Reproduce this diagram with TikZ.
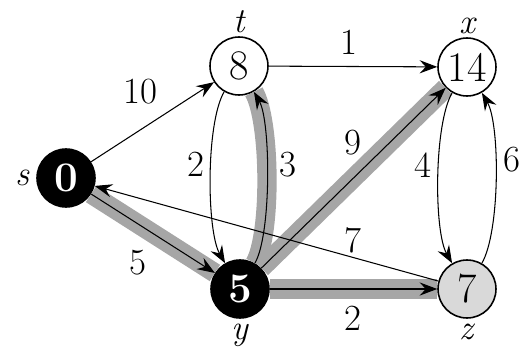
\documentclass[tikz,border=0pt]{standalone}
\usetikzlibrary{arrows.meta, positioning}

\begin{document}
\begin{tikzpicture}[
        x=0.02cm, y=0.02cm,
        vertex/.style={circle, draw, line width=0.9pt, fill=white, minimum size=1.16cm, inner sep=0pt, font=\fontsize{24}{26}\selectfont},
        done/.style={vertex, fill=black, text=white, font=\fontsize{24}{26}\selectfont\bfseries},
        open/.style={vertex, fill=black!15},
        vname/.style={font=\fontsize{20}{22}\selectfont\itshape, inner sep=0.5pt},
        wlabel/.style={font=\fontsize{21}{23}\selectfont, inner sep=1pt},
        arrow/.style={line width=0.6pt, -{Stealth[length=10pt, width=7.5pt, inset=3.5pt]}},
        spedge/.style={line width=11pt, draw=black!35}
        ]
        \useasboundingbox (0,0) rectangle (525,356);

        % Vertices with their shortest-path estimates
        \node (s) [done] at (66,178) {0};
        \node (t) [vertex] at (239,290) {8};
        \node (x) [vertex] at (467,289) {14};
        \node (y) [done] at (240,67) {5};
        \node (z) [open] at (467,67) {7};

        % Vertex names
        \node (sname) [vname, left=3pt of s] {s};
        \node (tname) [vname, above=1pt of t] {t};
        \node (xname) [vname, above=1pt of x] {x};
        \node (yname) [vname, below=2pt of y] {y};
        \node (zname) [vname, below=2pt of z] {z};

        % Shortest-path tree (shaded)
        \draw [spedge] (s) -- (y);
        \draw [spedge] (y) to[out=60, in=-60, looseness=0.5] (t);
        \draw [spedge] (y) -- (x);
        \draw [spedge] (y) -- (z);

        % Edges
        \draw [arrow] (s) -- (t);
        \draw [arrow] (s) -- (y);
        \draw [arrow] (t) -- (x);
        \draw [arrow] (t) to[out=-120, in=120, looseness=0.55] (y);
        \draw [arrow] (y) to[out=60, in=-60, looseness=0.5] (t);
        \draw [arrow] (y) -- (x);
        \draw [arrow] (y) -- (z);
        \draw [arrow] (x) to[out=-120, in=120, looseness=0.55] (z);
        \draw [arrow] (z) to[out=60, in=-60, looseness=0.55] (x);
        \draw [arrow] (z) -- (s);

        % Edge weights
        \node (w10) [wlabel] at (140,264) {10};
        \node (w1) [wlabel] at (349,314) {1};
        \node (w2a) [wlabel] at (196,192) {2};
        \node (w3) [wlabel] at (288,191) {3};
        \node (w9) [wlabel] at (353,213) {9};
        \node (w4) [wlabel] at (423,191) {4};
        \node (w6) [wlabel] at (512,196) {6};
        \node (w7) [wlabel] at (353,116) {7};
        \node (w5) [wlabel] at (138,93) {5};
        \node (w2b) [wlabel] at (353,38) {2};

    \end{tikzpicture}
\end{document}
